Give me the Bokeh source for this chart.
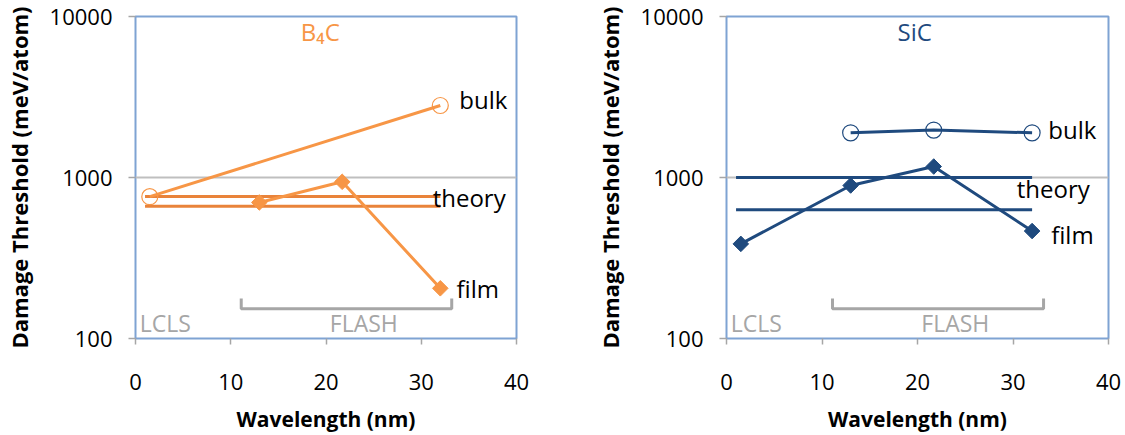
from bokeh.plotting import figure
from bokeh.layouts import row
from bokeh.models import FixedTicker, PrintfTickFormatter
from bokeh.core.properties import value
from bokeh.embed import file_html
from bokeh.resources import INLINE
import math

# ---------------- data ----------------
x_ticks = [0, 10, 20, 30, 40]
y_ticks = [100, 1000, 10000]

# B4C
b4c_bulk_x = [1.5, 32]
b4c_bulk_y = [760, 2800]
b4c_film_x = [13, 21.7, 32]
b4c_film_y = [700, 940, 205]
b4c_theory_x = [1, 32]
b4c_theory_y = [762, 664]

# SiC
sic_bulk_x = [13, 21.7, 32]
sic_bulk_y = [1895, 1970, 1895]
sic_film_x = [1.5, 13, 21.7, 32]
sic_film_y = [387, 892, 1170, 465]
sic_theory_x = [1, 32]
sic_theory_y = [1000, 630]

# labels
label_text = ["bulk", "theory", "film"]
b4c_label_x = [34.0, 31.2, 33.7]
b4c_label_y = [3050, 747, 204]
sic_label_x = [33.7, 30.4, 34.0]
sic_label_y = [1980, 855, 443]

facility_text = ["LCLS", "FLASH"]
facility_x = [0.45, 20.4]
facility_y = [124, 124]
flash_bracket_x = [11.1, 11.1, 33.2, 33.2]
flash_bracket_y = [177, 153, 153, 177]

ORANGE = "#F79646"
ORANGE_T = "#E9833A"
BLUE = "#1F4A7E"
GRAY = "#A6A6A6"
FRAME = "#7FA3D3"
FONT = "Open Sans"


def make_fig(width, left, right, title, color, theory_color,
             bulk_x, bulk_y, film_x, film_y, th_x, th_y, lab_x, lab_y, title_x):
    p = figure(width=width, height=435, y_axis_type="log",
               x_range=(0, 40), y_range=(100, 10000),
               output_backend="svg", toolbar_location=None,
               min_border_left=left, min_border_right=right,
               min_border_top=16, min_border_bottom=97)
    p.outline_line_color = FRAME
    p.outline_line_width = 2
    p.background_fill_color = "white"
    p.border_fill_color = "white"

    p.xgrid.visible = False
    p.ygrid.ticker = FixedTicker(ticks=[1000])
    p.ygrid.grid_line_color = "#BFBFBF"
    p.ygrid.grid_line_width = 2

    p.xaxis.ticker = FixedTicker(ticks=x_ticks)
    p.yaxis.ticker = FixedTicker(ticks=y_ticks)
    p.yaxis.formatter = PrintfTickFormatter(format="%d")
    for ax in (p.xaxis, p.yaxis):
        ax.axis_line_color = None
        ax.major_tick_line_color = GRAY
        ax.major_tick_line_width = 1.5
        ax.major_tick_in = 0
        ax.minor_tick_line_color = None
        ax.major_label_text_font = FONT
        ax.major_label_text_font_size = "22px"
        ax.major_label_text_color = "black"
        ax.axis_label_text_font = FONT
        ax.axis_label_text_font_style = "bold"
        ax.axis_label_text_color = "black"
    p.xaxis.axis_label_text_font_size = "21px"
    p.yaxis.axis_label_text_font_size = "22px"
    p.xaxis.major_tick_out = 6
    p.yaxis.major_tick_out = 7
    p.xaxis.major_label_standoff = 29
    p.yaxis.major_label_standoff = 16
    p.xaxis.axis_label = "Wavelength (nm)"
    p.yaxis.axis_label = "Damage Threshold (meV/atom)"
    p.xaxis.axis_label_standoff = 12
    p.yaxis.axis_label_standoff = 13

    # FLASH bracket
    p.line(flash_bracket_x, flash_bracket_y, line_color=GRAY, line_width=3)
    p.text(facility_x, facility_y, text=facility_text, text_font=value(FONT),
           text_font_size="23px", text_color=GRAY, text_baseline="middle",
           text_align="left")

    # theory lines
    for ty in th_y:
        p.line(th_x, [ty, ty], line_color=theory_color, line_width=3)

    # bulk
    p.line(bulk_x, bulk_y, line_color=color, line_width=3)
    p.scatter(bulk_x, bulk_y, marker="circle", size=16, fill_color=None,
              line_color=color, line_width=1.2)
    # film
    p.line(film_x, film_y, line_color=color, line_width=3)
    p.scatter(film_x, film_y, marker="square", size=11, angle=math.pi / 4,
              fill_color=color, line_color=color, line_width=1)

    p.text(lab_x, lab_y, text=label_text, text_font=value(FONT),
           text_font_size="24px", text_color="black", text_baseline="middle",
           text_align="left")
    p.text([title_x], [8100], text=[title], text_font=value(FONT),
           text_font_size="24px", text_color=color, text_baseline="middle",
           text_align="center")
    return p


p1 = make_fig(591, 135, 75, "B\u2084C", ORANGE, ORANGE_T,
              b4c_bulk_x, b4c_bulk_y, b4c_film_x, b4c_film_y,
              b4c_theory_x, b4c_theory_y, b4c_label_x, b4c_label_y, 19.4)
p2 = make_fig(534, 135, 17, "SiC", BLUE, BLUE,
              sic_bulk_x, sic_bulk_y, sic_film_x, sic_film_y,
              sic_theory_x, sic_theory_y, sic_label_x, sic_label_y, 19.7)

layout = row(p1, p2)
open("out.html", "w").write(file_html(layout, INLINE))
